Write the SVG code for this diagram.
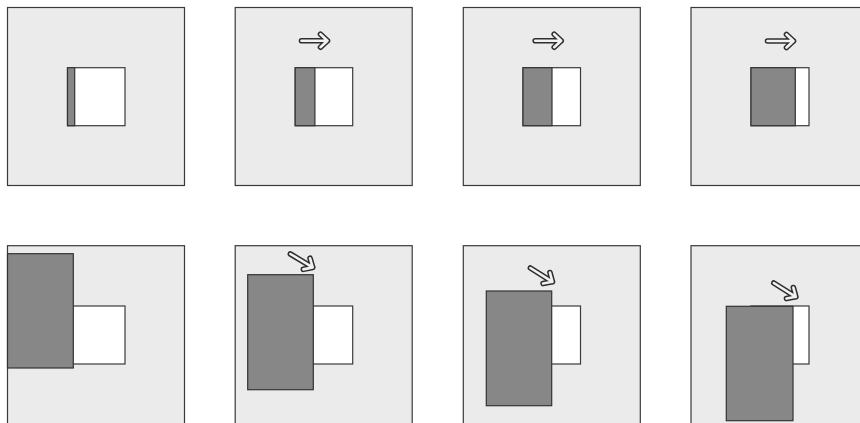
<svg xmlns="http://www.w3.org/2000/svg" xmlns:xlink="http://www.w3.org/1999/xlink" width="860" height="423" viewBox="0 0 860 423">
<style>
.panel{fill:#ebebeb;stroke:#3a3a3a;stroke-width:1.2}
.hole{fill:#ffffff;stroke:#3a3a3a;stroke-width:1.2}
.slab{fill:#878787;stroke:#333;stroke-width:1.2}
.ao{fill:none;stroke:#2e2e2e;stroke-width:5.6;stroke-linecap:round;stroke-linejoin:round}
.ai{fill:none;stroke:#f2f2f2;stroke-width:2.6;stroke-linecap:round;stroke-linejoin:round}
</style>
<defs>
<g id="arrow">
<path class="ao" d="M0,0 H26 M19,-6.5 L26,0 L19,6.5"/>
<path class="ai" d="M0,0 H26 M19,-6.5 L26,0 L19,6.5"/>
</g>
</defs>
<rect width="860" height="423" fill="#ffffff"/>
<g id="top1">
<rect class="panel" x="7.5" y="7.5" width="177" height="178"/>
<rect class="hole" x="67.5" y="67.7" width="57.5" height="58"/>
<rect class="slab" x="67.5" y="67.7" width="7.2" height="58"/>
</g>
<g id="top2">
<rect class="panel" x="235.2" y="7.5" width="177" height="178"/>
<rect class="hole" x="295.2" y="67.7" width="57.5" height="58"/>
<rect class="slab" x="295.2" y="67.7" width="19.7" height="58"/>
<use xlink:href="#arrow" transform="translate(301.5,40.7)"/>
</g>
<g id="top3">
<rect class="panel" x="463.3" y="7.5" width="177" height="178"/>
<rect class="hole" x="523" y="67.7" width="57.5" height="58"/>
<rect class="slab" x="523" y="67.7" width="29" height="58"/>
<use xlink:href="#arrow" transform="translate(535.2,40.7)"/>
</g>
<g id="top4">
<rect class="panel" x="691" y="7.5" width="177" height="178"/>
<rect class="hole" x="751" y="67.7" width="58" height="58"/>
<rect class="slab" x="751" y="67.7" width="44.3" height="58"/>
<use xlink:href="#arrow" transform="translate(767.5,41)"/>
</g>
<g id="bottom1">
<rect class="panel" x="7.5" y="245.7" width="177" height="178"/>
<rect class="hole" x="67.5" y="306" width="57.5" height="58"/>
<rect class="slab" x="7.5" y="253.7" width="65.8" height="114.3"/>
</g>
<g id="bottom2">
<rect class="panel" x="235.2" y="245.7" width="177" height="178"/>
<rect class="hole" x="295.2" y="306" width="57.5" height="58"/>
<rect class="slab" x="247.7" y="274.7" width="65.6" height="115"/>
<use xlink:href="#arrow" transform="translate(290.4,254) rotate(31)"/>
</g>
<g id="bottom3">
<rect class="panel" x="463.3" y="245.7" width="177" height="178"/>
<rect class="hole" x="523" y="306" width="57.5" height="58"/>
<rect class="slab" x="486.3" y="291" width="65.4" height="114.7"/>
<use xlink:href="#arrow" transform="translate(530.4,268) rotate(32)"/>
</g>
<g id="bottom4">
<rect class="panel" x="691" y="245.7" width="177" height="178"/>
<rect class="hole" x="751" y="306" width="58" height="58"/>
<rect class="slab" x="726.3" y="306.3" width="66.7" height="114.4"/>
<use xlink:href="#arrow" transform="translate(773.8,283) rotate(32)"/>
</g>
</svg>
